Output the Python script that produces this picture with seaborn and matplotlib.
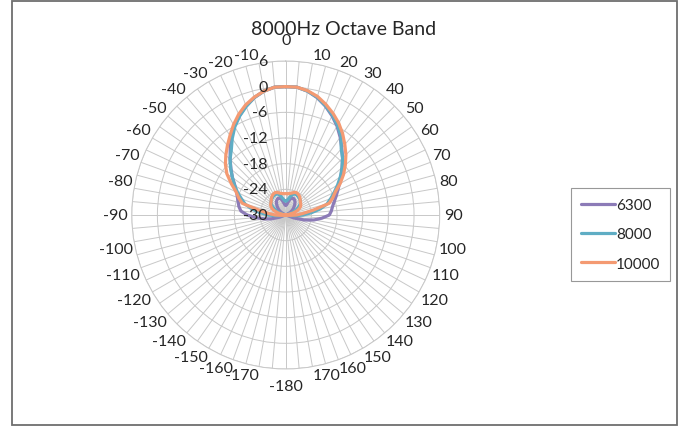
import numpy as np
import pandas as pd
import matplotlib
matplotlib.use("Agg")
import matplotlib.pyplot as plt
import matplotlib.transforms as mtransforms
from matplotlib.patches import Rectangle
import seaborn as sns

# Angles of the measurement (Excel radar: first category at the top, clockwise)
ANGLES = list(range(0, 180, 5)) + list(range(-180, 0, 5))

# Levels in dB, same order as ANGLES
DB_6300 = [0, 0, -0.6, -1.6, -2.9, -4.4, -6, -7.8, -9.6, -11.2, -12.8, -14.2,
           -15.5, -16.6, -17.5, -18.3, -18.9, -19.3, -19.8, -21.5, -23.3, -25.5,
           -28, -30.2, -31.2, -31.8, -32.3, -32.8, -33.3, -33.8, -34.1, -34.3,
           -34.2, -33.8, -33, -32.4,
           -32.2, -32.4, -33, -33.8, -34.2, -34.3, -34.1, -33.8, -33.3, -32.8,
           -32.3, -31.8, -31.2, -30.3, -28.5, -26.5, -24.8, -23, -21, -19.5,
           -18.9, -18.5, -18, -17.3, -16.3, -14.8, -13.3, -11.6, -9.8, -7.8,
           -6, -4.4, -2.9, -1.6, -0.6, 0]

DB_8000 = [0, 0, -0.6, -1.5, -2.8, -4.2, -5.8, -7.5, -9.8, -11.2, -12.8, -14.4,
           -16, -17.5, -18.8, -20, -21.8, -24, -26, -27.8, -29.2, -30.5,
           -31.6, -32.5, -33.3, -34, -34.5, -34.8, -35, -35.2, -35.3, -35.4,
           -35.2, -34.6, -33.9, -33.4,
           -33.2, -33.4, -33.9, -34.6, -35.2, -35.4, -35.3, -35.2, -35, -34.8,
           -34.5, -34, -33.3, -32.5, -31.6, -30.5, -29.2, -27.8, -26, -24,
           -22, -20.2, -19, -17.6, -16.2, -14.8, -13.2, -11.6, -10.2, -8.2,
           -6.2, -4.5, -3, -1.6, -0.6, 0]

DB_10000 = [0, 0, -0.5, -1.3, -2.5, -3.8, -5.2, -6.8, -8.5, -10.1, -11.8, -13.5,
            -15.3, -17.2, -18.3, -19.5, -23.5, -26, -27.5, -29, -30.5, -31.8,
            -32.8, -33.5, -34, -34.3, -34.5, -34.8, -35.2, -35.5, -35.7, -35.8,
            -35.6, -35.3, -35.1, -35,
            -35, -35, -35.1, -35.3, -35.6, -35.8, -35.7, -35.5, -35.2, -34.8,
            -34.5, -34.3, -34, -33.5, -32.8, -31.8, -30.5, -29, -27.5, -26,
            -23.8, -19.5, -18.3, -17.2, -15.3, -13.2, -11.6, -10.2, -8.8, -7.3,
            -5.6, -4, -2.6, -1.5, -0.6, 0]

SERIES = ["6300", "8000", "10000"]
COLORS = ["#8C7BB7", "#5FADC4", "#F49A72"]
R_TICKS = [-30, -24, -18, -12, -6, 0, 6]
R_MIN, R_MAX = -30, 6
FS = 11.5


def radar_coords(angles, values):
    # Excel draws values below the axis minimum through the centre,
    # on the opposite side of the chart
    th = np.deg2rad(np.asarray(angles, float))
    v = np.asarray(values, float)
    below = v < R_MIN
    th = np.where(below, th + np.pi, th)
    r = np.where(below, 2 * R_MIN - v, v)
    # close the loop
    return np.append(th, th[0]), np.append(r, r[0])


frames = []
for name, vals in zip(SERIES, [DB_6300, DB_8000, DB_10000]):
    th, r = radar_coords(ANGLES, vals)
    frames.append(pd.DataFrame({"theta": th, "r": r, "band": name}))
df = pd.concat(frames, ignore_index=True)

sns.set_style("white")
plt.rcParams["font.family"] = ["Lato", "DejaVu Sans"]

fig = plt.figure(figsize=(6.85, 4.27), dpi=100)
ax = fig.add_axes([0.1923, 0.1335, 0.4496, 0.7213], projection="polar")
ax.set_theta_zero_location("N")
ax.set_theta_direction(-1)

sns.lineplot(data=df, x="theta", y="r", hue="band", hue_order=SERIES,
             palette=COLORS, sort=False, estimator=None, linewidth=2.3, ax=ax)

ax.set_ylim(R_MIN, R_MAX)
ax.set_yticks(R_TICKS)
ax.set_yticklabels([])
spoke_deg = np.arange(0, 360, 5)
ax.set_xticks(np.deg2rad(spoke_deg))
ax.set_xticklabels([])
ax.grid(True, color="#C8C8C8", linewidth=0.7)
ax.spines["polar"].set_color("#C8C8C8")
ax.spines["polar"].set_linewidth(0.7)
ax.set_xlabel("")
ax.set_ylabel("")

# category labels, Excel style: the corner of the label box sits on the ring
for a in spoke_deg[::2]:
    s, c = np.sin(np.deg2rad(a)), np.cos(np.deg2rad(a))
    if a == 0:
        pad = 14
    elif a == 180:
        pad = 10
    elif a in (90, 270):
        pad = 4
    else:
        pad = 1.5
    ha = "center" if a in (0, 180) else ("left" if s > 0 else "right")
    va = "center" if a in (90, 270) else ("bottom" if c > 0 else "top")
    tr = mtransforms.offset_copy(ax.transData, fig=fig, x=pad * s, y=pad * c,
                                 units="dots")
    lab = str(a if a < 180 else a - 360)
    ax.text(np.deg2rad(a), R_MAX, lab, transform=tr, ha=ha, va=va,
            fontsize=FS, clip_on=False)

lab_tr = mtransforms.offset_copy(ax.transData, fig=fig, x=-18, y=0, units="dots")
for rv in R_TICKS:
    ax.text(0, rv, str(rv), transform=lab_tr, ha="right", va="center",
            fontsize=FS)

fig.text(0.502, 0.932, "8000Hz Octave Band", ha="center", va="center",
         fontsize=14)

sns.move_legend(ax, "center left", bbox_to_anchor=(0.8336, 0.4485),
                bbox_transform=fig.transFigure, frameon=True, fancybox=False,
                edgecolor="#7F7F7F", fontsize=11, handlelength=2.2,
                handletextpad=0.1, labelspacing=1.0, borderpad=0.65,
                borderaxespad=0, title=None)
ax.get_legend().get_frame().set_linewidth(0.8)

fig.patches.append(Rectangle((11.5 / 685, 1 - 426 / 427), 665 / 685, 424.5 / 427,
                             transform=fig.transFigure, fill=False,
                             edgecolor="#6E6E6E", linewidth=1.3))

fig.savefig("out.png", dpi=100)
